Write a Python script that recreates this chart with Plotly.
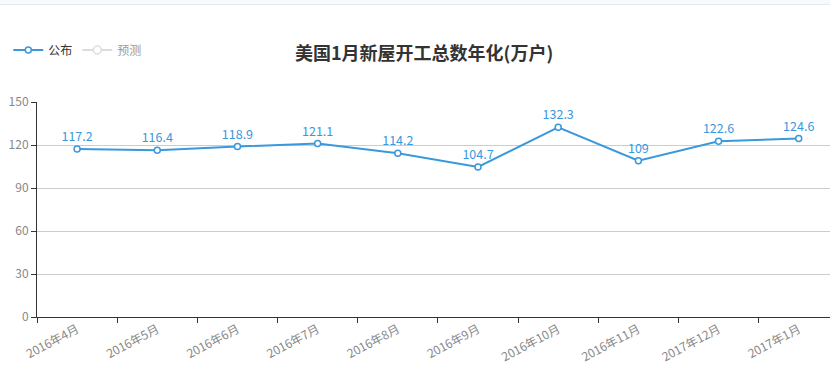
import plotly.graph_objects as go

categories = ["2016年4月", "2016年5月", "2016年6月", "2016年7月", "2016年8月",
              "2016年9月", "2016年10月", "2016年11月", "2017年12月", "2017年1月"]
published = [117.2, 116.4, 118.9, 121.1, 114.2, 104.7, 132.3, 109, 122.6, 124.6]
forecast = [None] * len(categories)

BLUE = "#3a98dc"
FONT = "Noto Sans CJK SC, Microsoft YaHei, sans-serif"

fig = go.Figure()
fig.add_trace(go.Scatter(
    x=categories, y=published, name="公布", mode="lines+markers+text",
    line=dict(color=BLUE, width=2),
    marker=dict(symbol="circle", size=6, color="white", line=dict(color=BLUE, width=1.5)),
    text=[str(v) for v in published], textposition="top center",
    textfont=dict(color=BLUE, size=12.5, family=FONT),
    cliponaxis=False,
))
fig.add_trace(go.Scatter(
    x=categories, y=forecast, name="预测", mode="lines+markers",
    line=dict(color="#bbbbbb", width=2),
    marker=dict(symbol="circle", size=8, color="white", line=dict(color="#bbbbbb", width=1.5)),
    visible="legendonly",
))

fig.update_layout(
    width=830, height=391,
    margin=dict(l=37, r=0, t=102, b=74, autoexpand=False),
    paper_bgcolor="white", plot_bgcolor="white",
    font=dict(family=FONT, color="#333"),
    title=dict(text="<b>美国1月新屋开工总数年化(万户)</b>", x=0.511, xanchor="center",
               xref="container", yref="container",
               y=1 - 54 / 391, yanchor="middle", font=dict(size=18, color="#333", family=FONT)),
    showlegend=True,
    legend=dict(orientation="h", x=0.01, y=1 - 50 / 391, xref="container", yref="container",
                xanchor="left", yanchor="middle",
                font=dict(size=12, color="#333", family=FONT),
                itemwidth=30, bgcolor="rgba(0,0,0,0)"),
    xaxis=dict(
        type="category", range=[-0.5, 9.39], automargin=False,
        showgrid=False, showline=True, linecolor="#333", linewidth=1,
        ticks="outside", tickson="boundaries", ticklen=5, tickcolor="#333",
        tickangle=-28, tickfont=dict(size=12, color="#888", family=FONT),
    ),
    yaxis=dict(
        range=[0, 150], tickvals=[0, 30, 60, 90, 120, 150], automargin=False,
        showgrid=True, gridcolor="#cccccc", gridwidth=1,
        showline=True, linecolor="#333", linewidth=1,
        ticks="outside", ticklen=5, tickcolor="#333",
        tickfont=dict(size=12, color="#888", family=FONT),
        zeroline=False,
    ),
    shapes=[
        dict(type="rect", xref="paper", yref="paper", x0=-0.05, x1=1.05,
             y0=1 + 98 / 215, y1=1 + 102 / 215, fillcolor="#f7f9fb", line=dict(width=0), layer="below"),
        dict(type="line", xref="paper", yref="paper", x0=-0.05, x1=1.05,
             y0=1 + 97.5 / 215, y1=1 + 97.5 / 215, line=dict(color="#e3eaf0", width=1)),
    ],
)

fig.write_html("out.html", config={"displayModeBar": False},
               post_script="document.body.style.margin='0';document.body.style.overflow='hidden';")
